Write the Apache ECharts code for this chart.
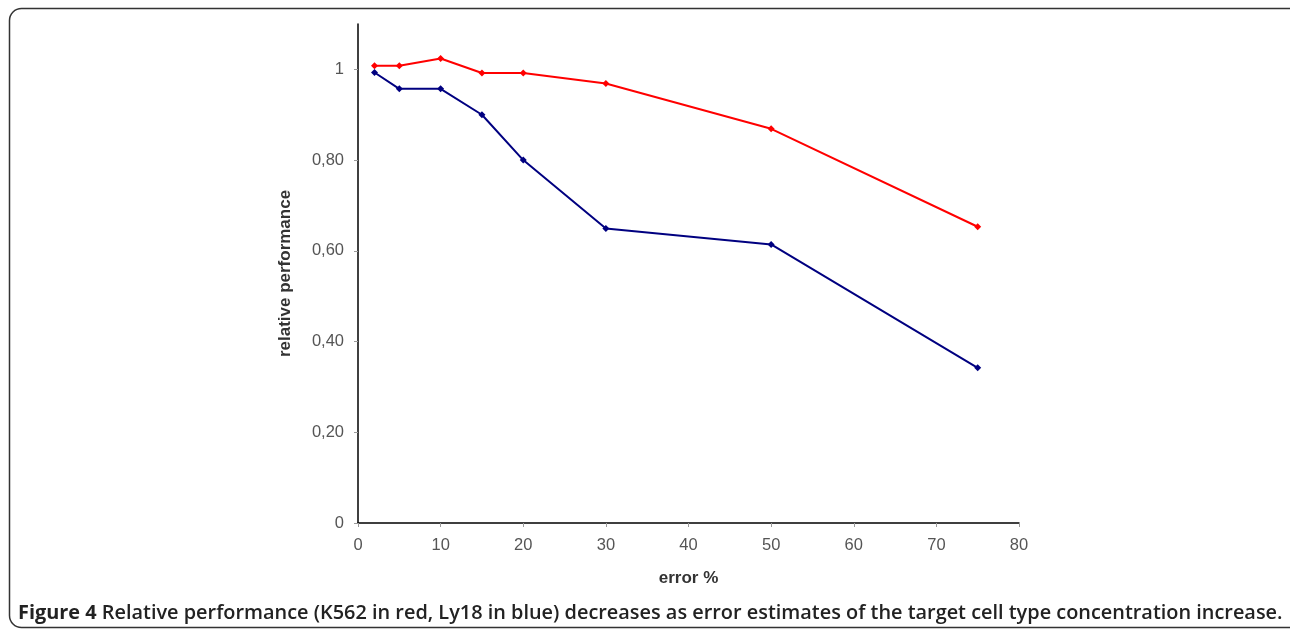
<!DOCTYPE html>
<html><head><meta charset="utf-8">
<script src="https://cdn.jsdelivr.net/npm/echarts@6/dist/echarts.min.js"></script>
<style>html,body{margin:0;padding:0;background:#fff}#c{width:1290px;height:630px}</style>
</head><body><div id="c"></div>
<script>
const errorPct = [2, 5, 10, 15, 20, 30, 50, 75];
const k562 = [1.008, 1.008, 1.024, 0.992, 0.992, 0.969, 0.869, 0.653];
const ly18 = [0.993, 0.957, 0.957, 0.900, 0.800, 0.649, 0.614, 0.342];
const yTicks = [0, 0.2, 0.4, 0.6, 0.8, 1];
const xTicks = [0, 10, 20, 30, 40, 50, 60, 70, 80];
const xTitle = 'error %';
const yTitle = 'relative performance';
const captionBold = 'Figure 4';
const captionText = ' Relative performance (K562 in red, Ly18 in blue) decreases as error estimates of the target cell type concentration increase.';

const chart = echarts.init(document.getElementById('c'), null, {renderer: 'canvas'});
const fmtY = v => v === 0 ? '0' : (Math.abs(v - 1) < 1e-9 ? '1' : v.toFixed(2).replace('.', ','));
chart.setOption({
  animation: false,
  grid: {left: 358, right: 271, top: 24, bottom: 107, containLabel: false},
  xAxis: {
    type: 'value', min: 0, max: 80, interval: 10,
    name: xTitle, nameLocation: 'middle', nameGap: 47,
    nameTextStyle: {fontFamily: 'Liberation Sans', fontSize: 17, fontWeight: 'bold', color: '#333'},
    axisLine: {show: true, lineStyle: {color: '#000', width: 1.5}},
    axisTick: {show: true, length: 4, lineStyle: {color: '#999'}, customValues: xTicks},
    axisLabel: {fontFamily: 'Liberation Sans', fontSize: 16.5, color: '#555', margin: 14, customValues: xTicks},
    splitLine: {show: false}
  },
  yAxis: {
    type: 'value', min: 0, max: 1.1,
    name: yTitle, nameLocation: 'middle', nameGap: 64, nameRotate: 90,
    nameTextStyle: {fontFamily: 'Liberation Sans', fontSize: 17, fontWeight: 'bold', color: '#333'},
    axisLine: {show: true, lineStyle: {color: '#000', width: 1.5}},
    axisTick: {show: true, length: 4, lineStyle: {color: '#999'}, customValues: yTicks},
    axisLabel: {fontFamily: 'Liberation Sans', fontSize: 16.5, color: '#555', margin: 14, formatter: fmtY, customValues: yTicks},
    splitLine: {show: false}
  },
  series: [
    {type: 'line', data: errorPct.map((x, i) => [x, k562[i]]), symbol: 'diamond', symbolSize: 7,
     lineStyle: {color: '#ff0000', width: 2}, itemStyle: {color: '#ff0000'}},
    {type: 'line', data: errorPct.map((x, i) => [x, ly18[i]]), symbol: 'diamond', symbolSize: 7,
     lineStyle: {color: '#000080', width: 2}, itemStyle: {color: '#000080'}}
  ],
  graphic: [
    {type: 'rect', shape: {x: 9.5, y: 8.5, width: 1320, height: 619, r: 12},
     style: {fill: 'none', stroke: '#333', lineWidth: 1.5}, silent: true},
    {type: 'text', left: 18, top: 603,
     style: {rich: {b: {fontFamily: 'Open Sans', fontWeight: 'bold', fontSize: 19.9, fill: '#222'},
                    n: {fontFamily: 'Open Sans', fontWeight: 600, fontSize: 19.9, fill: '#222'}},
             text: '{b|' + captionBold + '}{n|' + captionText + '}'}}
  ]
});
</script></body></html>
